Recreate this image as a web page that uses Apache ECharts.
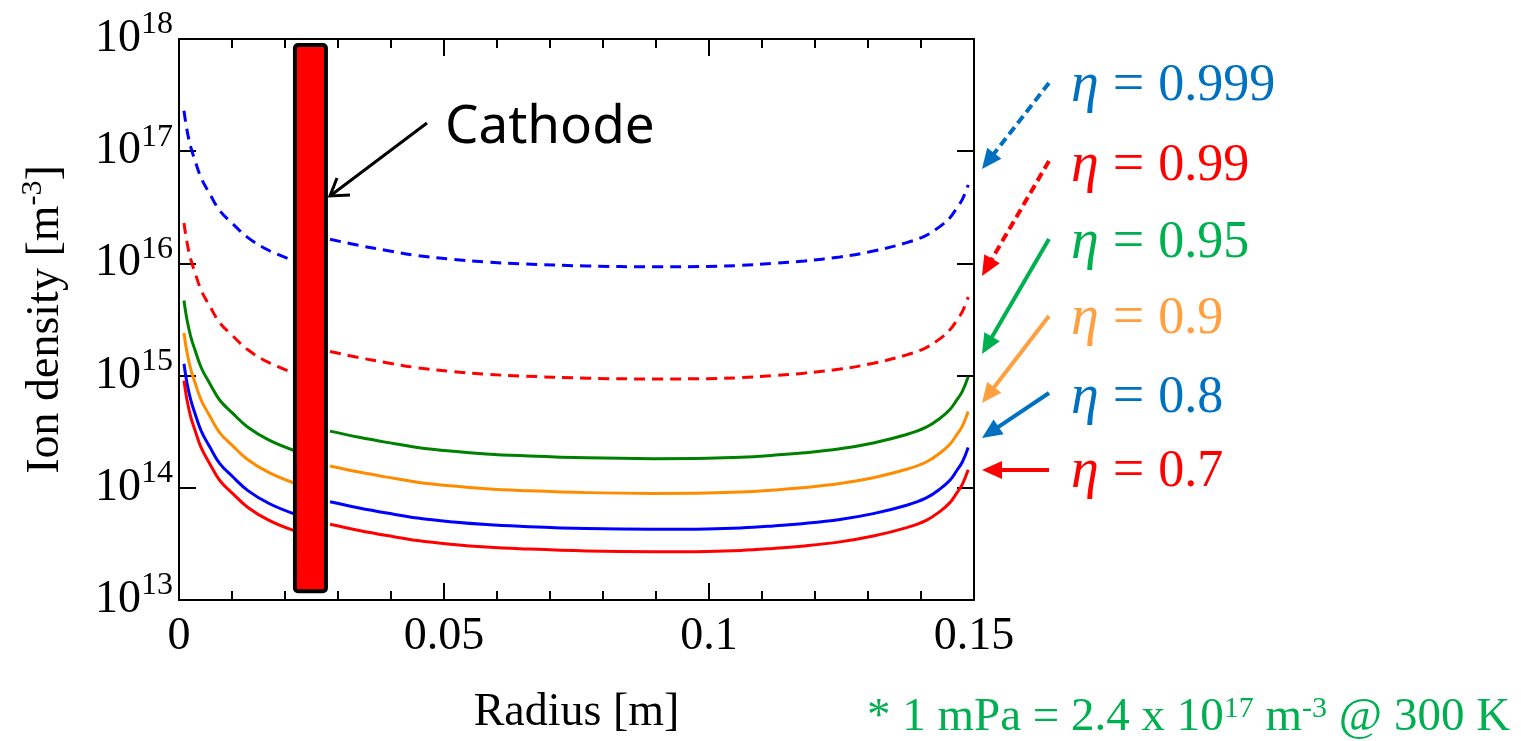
<!DOCTYPE html>
<html>
<head>
<meta charset="utf-8">
<script src="https://cdn.jsdelivr.net/npm/echarts@6/dist/echarts.min.js"></script>
<style>
html,body{margin:0;padding:0;background:#fff;}
#chart{width:1521px;height:741px;}
</style>
</head>
<body>
<div id="chart"></div>
<script>
// ---- data (ion density given as log10 values, m^-3) ----
// radius [m]; null marks the break hidden behind the cathode
const radius = [0.00094, 0.0015, 0.0022, 0.003, 0.0042, 0.0058, 0.0077, 0.0100, 0.0130, 0.0170, 0.0216,
  0.025,
  0.0285, 0.034, 0.0392, 0.045, 0.0518, 0.058, 0.0643, 0.0769, 0.0895, 0.0996, 0.106, 0.1121, 0.118, 0.1247,
  0.131, 0.1373, 0.141, 0.1436, 0.1455, 0.1467, 0.1478, 0.1489];
const logEta0999 = [17.36, 17.19, 17.04, 16.92, 16.76, 16.62, 16.47, 16.36, 16.23, 16.115, 16.025, null,
  16.215, 16.16, 16.115, 16.07, 16.035, 16.012, 15.997, 15.977, 15.97, 15.973, 15.982, 16.0, 16.022, 16.058,
  16.11, 16.185, 16.25, 16.33, 16.41, 16.49, 16.57, 16.70];
const logEta099 = [16.36, 16.19, 16.04, 15.92, 15.76, 15.62, 15.47, 15.36, 15.23, 15.115, 15.025, null,
  15.215, 15.16, 15.115, 15.07, 15.035, 15.012, 14.997, 14.977, 14.97, 14.973, 14.982, 15.0, 15.022, 15.058,
  15.11, 15.185, 15.25, 15.33, 15.41, 15.49, 15.57, 15.70];
const logEta095 = [15.67, 15.50, 15.35, 15.23, 15.07, 14.93, 14.78, 14.67, 14.54, 14.425, 14.335, null,
  14.505, 14.45, 14.405, 14.36, 14.325, 14.302, 14.287, 14.267, 14.26, 14.263, 14.272, 14.29, 14.312, 14.348,
  14.40, 14.475, 14.54, 14.62, 14.70, 14.78, 14.86, 14.99];
const logEta09 = [15.38, 15.21, 15.06, 14.94, 14.78, 14.64, 14.49, 14.38, 14.25, 14.135, 14.045, null,
  14.195, 14.14, 14.095, 14.05, 14.015, 13.992, 13.977, 13.957, 13.95, 13.953, 13.962, 13.98, 14.002, 14.038,
  14.09, 14.165, 14.23, 14.31, 14.39, 14.47, 14.55, 14.68];
const logEta08 = [15.105, 14.935, 14.785, 14.665, 14.505, 14.365, 14.215, 14.105, 13.975, 13.86, 13.77, null,
  13.875, 13.82, 13.775, 13.73, 13.695, 13.672, 13.657, 13.637, 13.63, 13.633, 13.642, 13.66, 13.682, 13.718,
  13.77, 13.845, 13.91, 13.99, 14.07, 14.15, 14.23, 14.36];
const logEta07 = [14.955, 14.785, 14.635, 14.515, 14.355, 14.215, 14.065, 13.955, 13.825, 13.71, 13.62, null,
  13.675, 13.62, 13.575, 13.53, 13.495, 13.472, 13.457, 13.437, 13.43, 13.433, 13.442, 13.46, 13.482, 13.518,
  13.57, 13.645, 13.71, 13.79, 13.87, 13.95, 14.03, 14.16];
const cathode = [0.0215, 0.0281, 1.15e13, 9.2e17]; // [xStart, xEnd, yBottom, yTop]
const etaLabels = ['0.999', '0.99', '0.95', '0.9', '0.8', '0.7'];

const chart = echarts.init(document.getElementById('chart'), null, {renderer: 'canvas'});
const SERIF = 'Liberation Serif';
const pair = arr => radius.map((x, i) => [x, arr[i] === null ? '-' : Math.pow(10, arr[i])]);

function curve(name, arr, color, dashed) {
  return {
    name: name, type: 'line', data: pair(arr), showSymbol: false, smooth: 0.4,
    connectNulls: false, xAxisIndex: 0, yAxisIndex: 0, z: 3, silent: true,
    lineStyle: {color: color, width: 3, type: dashed ? [11, 7] : 'solid', cap: 'butt'}
  };
}

// arrow annotations (pixel coordinates, outside the plot)
function arrow(x1, y1, x2, y2, color, dashed) {
  const dx = x2 - x1, dy = y2 - y1, L = Math.hypot(dx, dy);
  const ux = dx / L, uy = dy / L, hl = 20, hw = 9;
  const bx = x2 - ux * hl, by = y2 - uy * hl;
  return [
    {type: 'line', shape: {x1: x1, y1: y1, x2: bx + ux * 2, y2: by + uy * 2},
     style: {stroke: color, lineWidth: 4, lineDash: dashed ? [9, 5] : null}},
    {type: 'polygon', shape: {points: [[x2, y2], [bx - uy * hw, by + ux * hw], [bx + uy * hw, by - ux * hw]]},
     style: {fill: color}}
  ];
}

const labelColors = ['#0070C0', '#FF0000', '#00B050', '#FFA040', '#0070C0', '#FF0000'];
const labelY = [86, 166, 243, 319, 398, 472];
const arrowDefs = [
  [1049, 83, 982, 169, true], [1049, 161, 982, 276, true], [1049, 239, 982, 354, false],
  [1049, 316, 982, 403, false], [1049, 393, 982, 438, false], [1049, 470, 982, 470, false]
];
const graphics = [];
etaLabels.forEach((t, i) => {
  graphics.push({
    type: 'text', x: 1071, y: labelY[i],
    style: {
      text: '{i|η}{e| = }' + t, fill: labelColors[i], fontFamily: SERIF, fontSize: 52,
      verticalAlign: 'middle', align: 'left',
      rich: {
        i: {fontStyle: 'italic', fontFamily: SERIF, fontSize: 56, fill: labelColors[i]},
        e: {fontFamily: SERIF, fontSize: 56, fill: labelColors[i]}
      }
    }
  });
  const a = arrowDefs[i];
  arrow(a[0], a[1], a[2], a[3], labelColors[i], a[4]).forEach(g => graphics.push(g));
});
// Cathode annotation
graphics.push({type: 'text', x: 445, y: 128, style: {text: 'Cathode', fill: '#000', fontFamily: 'Noto Sans', fontSize: 53, verticalAlign: 'middle', align: 'left'}});
graphics.push({type: 'line', shape: {x1: 427, y1: 123, x2: 330, y2: 196}, style: {stroke: '#000', lineWidth: 3}});
graphics.push({type: 'polyline', shape: {points: [[337, 178], [330, 196], [350, 195]]}, style: {stroke: '#000', lineWidth: 3, fill: null}});
// footnote
graphics.push({
  type: 'text', x: 867, y: 718,
  style: {
    text: '* 1 mPa = 2.4 x 10{s|17} m{s|-3} @ 300 K', fill: '#00B050', fontFamily: SERIF, fontSize: 47,
    verticalAlign: 'middle', align: 'left',
    rich: {s: {fontSize: 30, fontFamily: SERIF, fill: '#00B050', verticalAlign: 'top', lineHeight: 30}}
  }
});

const axisCommonX = {
  type: 'value', min: 0, max: 0.15, interval: 0.05,
  axisLine: {show: true, onZero: false, lineStyle: {color: '#000', width: 2}},
  axisTick: {show: true, inside: true, length: 17, lineStyle: {color: '#000', width: 2}},
  minorTick: {show: true, splitNumber: 5, length: 9, lineStyle: {color: '#000', width: 2}},
  splitLine: {show: false}, minorSplitLine: {show: false}
};
const axisCommonY = {
  type: 'log', logBase: 10, min: 1e13, max: 1e18,
  axisLine: {show: true, onZero: false, lineStyle: {color: '#000', width: 2}},
  axisTick: {show: true, inside: true, length: 17, lineStyle: {color: '#000', width: 2}},
  minorTick: {show: false}, splitLine: {show: false}
};

const option = {
  backgroundColor: '#fff',
  animation: false,
  grid: {left: 179, top: 39, right: 547, bottom: 135, containLabel: false},
  xAxis: [
    Object.assign({}, axisCommonX, {
      position: 'bottom',
      axisLabel: {
        color: '#000', fontFamily: SERIF, fontSize: 46, margin: 14,
        formatter: v => String(parseFloat(v.toFixed(4)))
      },
      name: 'Radius [m]', nameLocation: 'middle', nameGap: 90,
      nameTextStyle: {color: '#000', fontFamily: SERIF, fontSize: 46}
    }),
    Object.assign({}, axisCommonX, {position: 'top', axisLabel: {show: false}})
  ],
  yAxis: [
    Object.assign({}, axisCommonY, {
      position: 'left',
      axisLabel: {
        margin: 6,
        formatter: v => '{b|10}{e|' + Math.round(Math.log10(v)) + '}',
        rich: {
          b: {color: '#000', fontFamily: SERIF, fontSize: 46, lineHeight: 60},
          e: {color: '#000', fontFamily: SERIF, fontSize: 32, lineHeight: 32, verticalAlign: 'top'}
        }
      },
      name: 'Ion density [m{s|-3}]', nameLocation: 'middle', nameGap: 105,
      nameTextStyle: {
        color: '#000', fontFamily: SERIF, fontSize: 46, lineHeight: 56,
        rich: {s: {color: '#000', fontFamily: SERIF, fontSize: 30, lineHeight: 30, verticalAlign: 'top'}}
      }
    }),
    Object.assign({}, axisCommonY, {position: 'right', axisLabel: {show: false}})
  ],
  series: [
    curve('η = 0.999', logEta0999, '#0000FF', true),
    curve('η = 0.99', logEta099, '#FF0000', true),
    curve('η = 0.95', logEta095, '#008000', false),
    curve('η = 0.9', logEta09, '#FF8C00', false),
    curve('η = 0.8', logEta08, '#0000FF', false),
    curve('η = 0.7', logEta07, '#FF0000', false),
    {
      name: 'Cathode', type: 'custom', xAxisIndex: 0, yAxisIndex: 0, z: 10, silent: true,
      data: [cathode],
      renderItem: function (params, api) {
        const p1 = api.coord([api.value(0), api.value(3)]);
        const p2 = api.coord([api.value(1), api.value(2)]);
        return {
          type: 'rect',
          shape: {x: p1[0] + 2, y: p1[1] + 2, width: p2[0] - p1[0] - 4, height: p2[1] - p1[1] - 4, r: 3},
          style: {fill: '#FF0000', stroke: '#000', lineWidth: 4}
        };
      }
    }
  ],
  graphic: graphics
};
chart.setOption(option);
</script>
</body>
</html>
